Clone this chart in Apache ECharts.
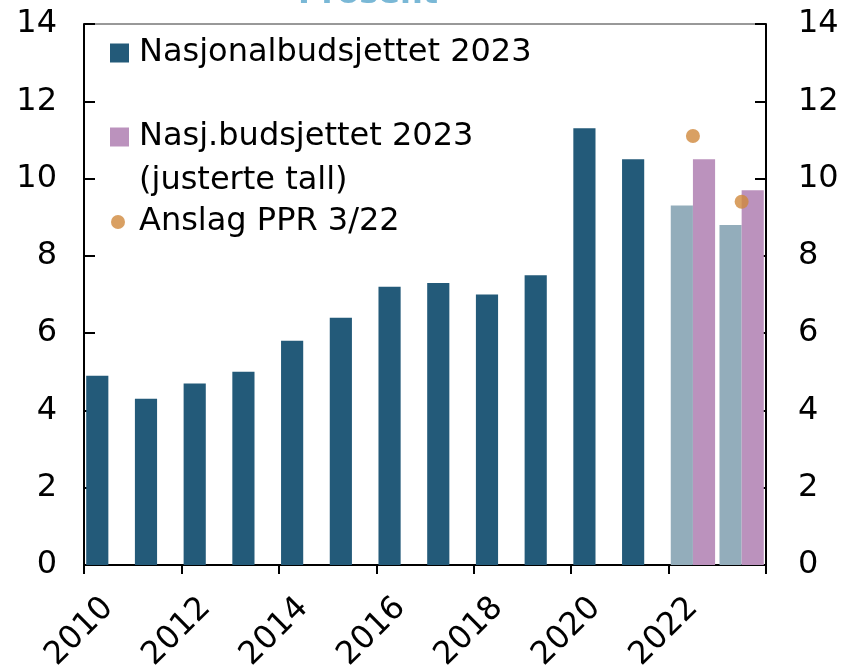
<!DOCTYPE html>
<html>
<head>
<meta charset="utf-8">
<script src="https://cdn.jsdelivr.net/npm/echarts@6/dist/echarts.min.js"></script>
<style>
  html, body { margin: 0; padding: 0; background: #fff; }
  #chart { width: 844px; height: 667px; }
</style>
</head>
<body>
<div id="chart"></div>
<script>
const years = ["2010", "2011", "2012", "2013", "2014", "2015", "2016", "2017", "2018", "2019", "2020", "2021", "2022", "2023"];
// Nasjonalbudsjettet 2023 (last two years drawn lighter)
const nb2023 = [4.9, 4.3, 4.7, 5.0, 5.8, 6.4, 7.2, 7.3, 7.0, 7.5, 11.3, 10.5, 9.3, 8.8];
// Nasj.budsjettet 2023, justerte tall
const nbAdjusted = [null, null, null, null, null, null, null, null, null, null, null, null, 10.5, 9.7];
// Anslag PPR 3/22
const ppr322 = [null, null, null, null, null, null, null, null, null, null, null, null, 11.1, 9.4];
const yTicks = [0, 2, 4, 6, 8, 10, 12, 14];

const DARK = "#235a79";
const LIGHT = "#93adbb";
const PURPLE = "#bb92bd";
const ORANGE = "#cf883c";
const FONT = "DejaVu Sans, sans-serif";

const chart = echarts.init(document.getElementById("chart"));

function yAxis(position, margin) {
  return {
    type: "value",
    position,
    min: yTicks[0],
    max: yTicks[yTicks.length - 1],
    interval: 2,
    splitLine: { show: false },
    axisLine: { show: true, lineStyle: { color: "#000", width: 2 } },
    axisTick: { show: true, inside: true, length: 11, lineStyle: { color: "#000", width: 2 } },
    axisLabel: { color: "#000", fontSize: 32, fontFamily: FONT, margin }
  };
}

const legendText = { color: "#000", fontSize: 32, fontFamily: FONT, lineHeight: 42, padding: [0, 0, 0, 5] };

chart.setOption({
  animation: false,
  title: {
    text: "Prosent",
    left: 293,
    top: -26,
    textStyle: { color: "#7ab8d6", fontSize: 32, fontWeight: "bold", fontFamily: FONT }
  },
  grid: {
    left: 84, right: 78, top: 24, bottom: 102,
    outerBoundsMode: "none",
    show: true, borderColor: "#333", borderWidth: 1
  },
  legend: [
    {
      orient: "vertical",
      left: 105,
      top: 27,
      itemWidth: 19,
      itemHeight: 19,
      itemGap: 42,
      selectedMode: false,
      textStyle: legendText,
      data: [
        { name: "Nasjonalbudsjettet 2023", icon: "rect" },
        { name: "Nasj.budsjettet 2023", icon: "rect" }
      ]
    },
    {
      left: 106,
      top: 196,
      itemWidth: 14,
      itemHeight: 14,
      selectedMode: false,
      textStyle: Object.assign({}, legendText, { padding: [0, 0, 0, 9] }),
      data: [{ name: "Anslag PPR 3/22", icon: "circle" }]
    }
  ],
  graphic: [{
    type: "text",
    x: 139,
    y: 181,
    style: { text: "(justerte tall)", fill: "#000", font: "32px " + FONT, verticalAlign: "middle" }
  }],
  xAxis: {
    type: "category",
    data: years,
    axisLine: { lineStyle: { color: "#000", width: 2 } },
    axisTick: { show: true, interval: 1, length: 9, lineStyle: { color: "#000", width: 2 } },
    axisLabel: { interval: 1, rotate: 45, color: "#000", fontSize: 32, fontFamily: FONT, margin: 38 }
  },
  yAxis: [yAxis("left", 27), yAxis("right", 32)],
  series: [
    {
      name: "Nasjonalbudsjettet 2023",
      type: "bar",
      barGap: "0%",
      barCategoryGap: "9%",
      itemStyle: { color: DARK },
      data: nb2023.map((v, i) => i >= 12 ? { value: v, itemStyle: { color: LIGHT } } : v)
    },
    {
      name: "Nasj.budsjettet 2023",
      type: "bar",
      itemStyle: { color: PURPLE },
      data: nbAdjusted
    },
    {
      name: "Anslag PPR 3/22",
      type: "scatter",
      symbolSize: 14,
      itemStyle: { color: ORANGE },
      data: ppr322,
      z: 5
    }
  ]
});
</script>
</body>
</html>
